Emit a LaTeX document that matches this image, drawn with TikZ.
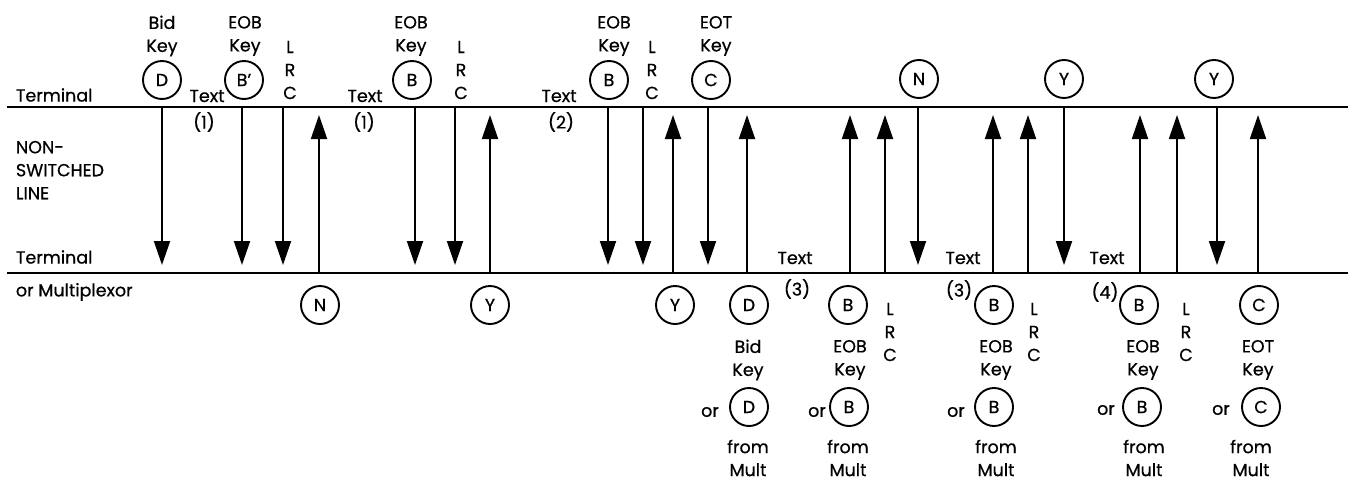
\documentclass[tikz,border=0pt]{standalone}
\usepackage{fontspec}
\setmainfont{Poppins}[UprightFeatures={FakeBold=0.6}]
\usetikzlibrary{arrows.meta}
\begin{document}
\begin{tikzpicture}[x=1pt,y=-1pt,
  font=\fontsize{17.5}{24}\selectfont,
  line width=1.9pt,
  circ/.style={circle, draw, line width=1.9pt, minimum size=38pt, inner sep=0pt},
  lbl/.style={inner sep=0pt, align=center},
  stack/.style={inner sep=0pt, align=center, font=\fontsize{17.5}{23}\selectfont},
  dn/.style={-{Triangle[length=24pt,width=16pt]}},
  ]
\useasboundingbox (0,0) rectangle (1352,480);
% lines
\coordinate (tl) at (7,107); \coordinate (tr) at (1348,107);
\coordinate (bl) at (7,273); \coordinate (br) at (1348,273);
\draw (tl) -- (tr);
\draw (bl) -- (br);
% left labels
\node[lbl, anchor=west] (term1) at (15,95) {Terminal};
\node[stack, anchor=north west, align=left] (nsl) at (15,140) {NON-\\SWITCHED\\LINE};
\node[lbl, anchor=west] (term2) at (15,257) {Terminal};
\node[lbl, anchor=west] (mux) at (15,292) {or Multiplexor};
% down arrows
\foreach \x [count=\i] in {162,242,283,415,455,608,643,708,918,1064,1217} {
  \coordinate (ds\i) at (\x,107);
  \coordinate (de\i) at (\x,265);
  \draw[dn] (ds\i) -- (de\i);
}
% up arrows
\foreach \x [count=\i] in {319,490,673,747,850,885,993,1028,1140,1177,1258} {
  \coordinate (us\i) at (\x,273);
  \coordinate (ue\i) at (\x,115);
  \draw[dn] (us\i) -- (ue\i);
}
% top row
\node[circ] (tD) at (162,80) {D};
\node[stack] (tDl) at (162,36) {Bid\\Key};
\node[lbl] (tx1) at (207,96) {Text};
\node[lbl] (n1a) at (204,122) {(1)};
\node[circ] (tB1) at (244,80) {B'};
\node[stack] (tB1l) at (245,36) {EOB\\Key};
\node[stack] (lrc1) at (290,70) {L\\R\\C};
\node[lbl] (tx2) at (365,96) {Text};
\node[lbl] (n1b) at (364,122) {(1)};
\node[circ] (tB2) at (412,80) {B};
\node[stack] (tB2l) at (411,36) {EOB\\Key};
\node[stack] (lrc2) at (461,70) {L\\R\\C};
\node[lbl] (tx3) at (559,96) {Text};
\node[lbl] (n2) at (561,122) {(2)};
\node[circ] (tB3) at (609,80) {B};
\node[stack] (tB3l) at (614,36) {EOB\\Key};
\node[stack] (lrc3) at (652,70) {L\\R\\C};
\node[circ] (tC) at (711,80) {C};
\node[stack] (tCl) at (716,36) {EOT\\Key};
\node[circ] (tN) at (919,79) {N};
\node[circ] (tY1) at (1064,79) {Y};
\node[circ] (tY2) at (1214,79) {Y};
% bottom row
\node[circ] (bN) at (320,305) {N};
\node[circ] (bY1) at (490,305) {Y};
\node[circ] (bY2) at (675,305) {Y};
\node[circ] (bD) at (749,305) {D};
\node[stack] (bDl) at (748,360) {Bid\\Key};
\node[lbl] (or1) at (710,412) {or};
\node[circ] (bD2) at (749,407) {D};
\node[stack] (fm1) at (748,458) {from\\Mult};
\node[lbl] (bx1) at (795,258) {Text};
\node[lbl] (n3a) at (797,289) {(3)};
\node[circ] (bB1) at (848,305) {B};
\node[stack] (bB1l) at (850,360) {EOB\\Key};
\node[lbl] (or2) at (817,412) {or};
\node[circ] (bB1b) at (849,407) {B};
\node[stack] (fm2) at (848,458) {from\\Mult};
\node[stack] (lrc4) at (890,332) {L\\R\\C};
\node[lbl] (bx2) at (963,258) {Text};
\node[lbl] (n3b) at (959,290) {(3)};
\node[circ] (bB2) at (994,305) {B};
\node[stack] (bB2l) at (996,360) {EOB\\Key};
\node[lbl] (or3) at (956,412) {or};
\node[circ] (bB2b) at (994,407) {B};
\node[stack] (fm3) at (996,458) {from\\Mult};
\node[stack] (lrc5) at (1034,332) {L\\R\\C};
\node[lbl] (bx3) at (1107,258) {Text};
\node[lbl] (n4) at (1105,292) {(4)};
\node[circ] (bB3) at (1139,305) {B};
\node[stack] (bB3l) at (1143,360) {EOB\\Key};
\node[lbl] (or4) at (1106,410) {or};
\node[circ] (bB3b) at (1142,407) {B};
\node[stack] (fm4) at (1144,458) {from\\Mult};
\node[stack] (lrc6) at (1186,332) {L\\R\\C};
\node[circ] (bC) at (1259,305) {C};
\node[stack] (bCl) at (1258,360) {EOT\\Key};
\node[lbl] (or5) at (1221,410) {or};
\node[circ] (bC2) at (1261,407) {C};
\node[stack] (fm5) at (1251,458) {from\\Mult};
\end{tikzpicture}
\end{document}
